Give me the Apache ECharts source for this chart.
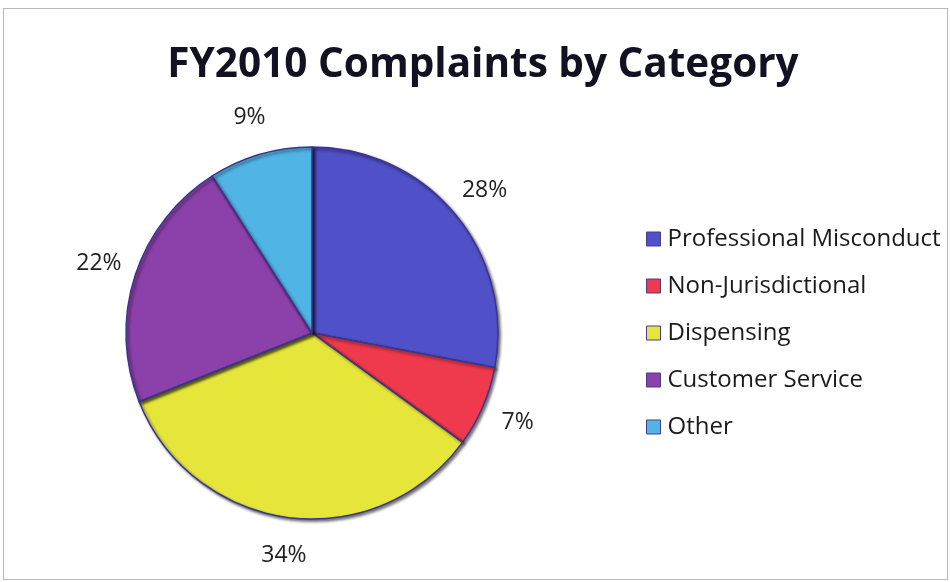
<!DOCTYPE html>
<html>
<head>
<meta charset="utf-8">
<script src="https://cdn.jsdelivr.net/npm/echarts@6/dist/echarts.min.js"></script>
<style>
html,body{margin:0;padding:0;background:#fff;}
#frame{position:absolute;left:3px;top:8px;width:943px;height:570px;border:1px solid #b8b8b8;}
#chart{position:absolute;left:0;top:0;width:950px;height:582px;}
</style>
</head>
<body>
<div id="frame"></div>
<div id="chart"></div>
<script>
const titleText = 'FY2010 Complaints by Category';
const categories = ['Professional Misconduct', 'Non-Jurisdictional', 'Dispensing', 'Customer Service', 'Other'];
const values = [28, 7, 34, 22, 9];
const colors = ['#5050c8', '#ee3a4c', '#e6e63a', '#8c40aa', '#50b4e4'];

const pieData = categories.map((n, i) => ({ name: n, value: values[i], itemStyle: { color: colors[i] } }));
const labelData = categories.map((n, i) => ({ name: n, value: values[i] }));

const chart = echarts.init(document.getElementById('chart'), null, { renderer: 'canvas' });
chart.setOption({
  backgroundColor: 'transparent',
  animation: false,
  title: {
    text: titleText,
    left: 478, textAlign: 'center', top: 40,
    textStyle: { fontFamily: 'Open Sans', fontWeight: 'bold', fontSize: 40.5, color: '#111122' }
  },
  legend: {
    orient: 'vertical',
    left: 641, top: 222,
    data: categories,
    itemWidth: 14, itemHeight: 14, itemGap: 23,
    icon: 'rect',
    itemStyle: { borderColor: '#4a3a8a', borderWidth: 1 },
    textStyle: { fontFamily: 'Open Sans', fontSize: 24, color: '#1a1a1a', padding: [0, 0, 0, 2] }
  },
  series: [
    {
      type: 'pie',
      center: [312, 333],
      radius: 186,
      startAngle: 90,
      clockwise: true,
      data: pieData,
      label: { show: false },
      labelLine: { show: false },
      itemStyle: {
        borderColor: '#3b3590', borderWidth: 1.5,
        shadowBlur: 3, shadowOffsetX: 2, shadowOffsetY: 2, shadowColor: 'rgba(0,0,0,0.55)'
      },
      emphasis: { disabled: true }
    },
    {
      type: 'pie',
      center: [312, 333],
      radius: [200, 242],
      startAngle: 90,
      clockwise: true,
      silent: true,
      data: labelData,
      itemStyle: { color: 'rgba(0,0,0,0)', borderWidth: 0 },
      label: {
        show: true, position: 'inside',
        formatter: '{c}%',
        fontFamily: 'Open Sans', fontSize: 23, color: '#222222'
      },
      labelLine: { show: false },
      emphasis: { disabled: true }
    }
  ]
});
</script>
</body>
</html>
